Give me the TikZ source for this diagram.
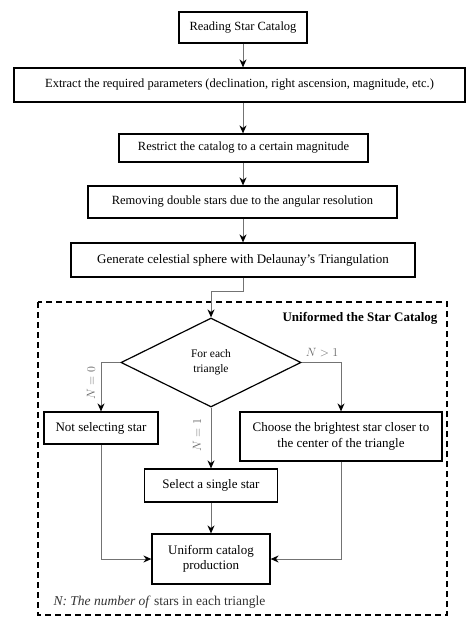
\documentclass[tikz,border=0pt]{standalone}
\usepackage{fontspec}
\setmainfont{Liberation Serif}
\usetikzlibrary{shapes.geometric,arrows.meta}
\begin{document}
\begin{tikzpicture}[x=1pt,y=1pt,
  box/.style={draw=black,line width=1.2pt,align=center,inner sep=1pt,font=\fontsize{13}{15.5}\selectfont},
  ubox/.style={box,font=\fontsize{12.5}{14}\selectfont},
  conn/.style={draw=black!55,line width=1pt,-{Stealth[black,length=8pt,width=7pt]}},
  lab/.style={font=\fontsize{13}{14}\selectfont,text=black!60}]
\useasboundingbox (0,0) rectangle (467,-617);
\node[ubox,minimum width=128pt,minimum height=31pt] (b1) at (243,-27.5) {Reading Star Catalog};
\node[ubox,minimum width=451pt,minimum height=34pt] (b2) at (239.5,-85) {Extract the required parameters (declination, right ascension, magnitude, etc.)};
\node[ubox,minimum width=249pt,minimum height=28pt] (b3) at (243.5,-148) {Restrict the catalog to a certain magnitude};
\node[ubox,minimum width=309pt,minimum height=32pt] (b4) at (242.5,-202) {Removing double stars due to the angular resolution};
\node[box,minimum width=344pt,minimum height=34pt] (b5) at (243,-260) {Generate celestial sphere with Delaunay's Triangulation};
\draw[black,dashed,line width=1.2pt,dash pattern=on 6pt off 4pt] (38,-302) rectangle (447,-615);
\node[anchor=east,font=\bfseries\fontsize{13}{14}\selectfont] (title) at (441,-318) {Uniformed the Star Catalog};
\node[draw=black,line width=1.2pt,diamond,minimum width=180pt,minimum height=89pt,inner sep=0pt,align=center,font=\fontsize{11.5}{15}\selectfont] (d) at (211,-362.5) {For each\\triangle};
\node[box,minimum width=114pt,minimum height=32pt] (ns) at (101,-428) {Not selecting star};
\node[box,minimum width=202pt,minimum height=49pt] (ch) at (341,-436.5) {Choose the brightest star closer to\\the center of the triangle};
\node[box,minimum width=133pt,minimum height=33pt] (sel) at (211,-485.5) {Select a single star};
\node[box,minimum width=118pt,minimum height=50pt] (uni) at (211,-559) {Uniform catalog\\production};
\coordinate (k1) at (243,-291);
\coordinate (k2) at (211,-291);
\draw[conn] (b1.south) -- (b1.south |- b2.north);
\draw[conn] (b1.south |- b2.south) -- (b1.south |- b3.north);
\draw[conn] (b1.south |- b3.south) -- (b1.south |- b4.north);
\draw[conn] (b1.south |- b4.south) -- (b5.north);
\draw[conn] (b5.south) -- (k1) -- (k2) -- (d.north);
\draw[conn] (d.west) -| (ns.north);
\draw[conn] (d.east) -| (ch.north);
\draw[conn] (d.south) -- (sel.north);
\draw[conn] (sel.south) -- (uni.north);
\draw[conn] (ns.south) |- (uni.west);
\draw[conn] (ch.south) |- (uni.east);
\node[lab,rotate=90] (l0) at (91,-383) {$N=0$};
\node[lab] (l2) at (322,-353) {$N>1$};
\node[lab,rotate=90] (l1) at (197,-435) {$N=1$};
\node[anchor=west,font=\fontsize{13.5}{15}\selectfont,text=black!80] (fn) at (50,-602) {\textit{N: The number of} stars in each triangle};
\end{tikzpicture}
\end{document}
